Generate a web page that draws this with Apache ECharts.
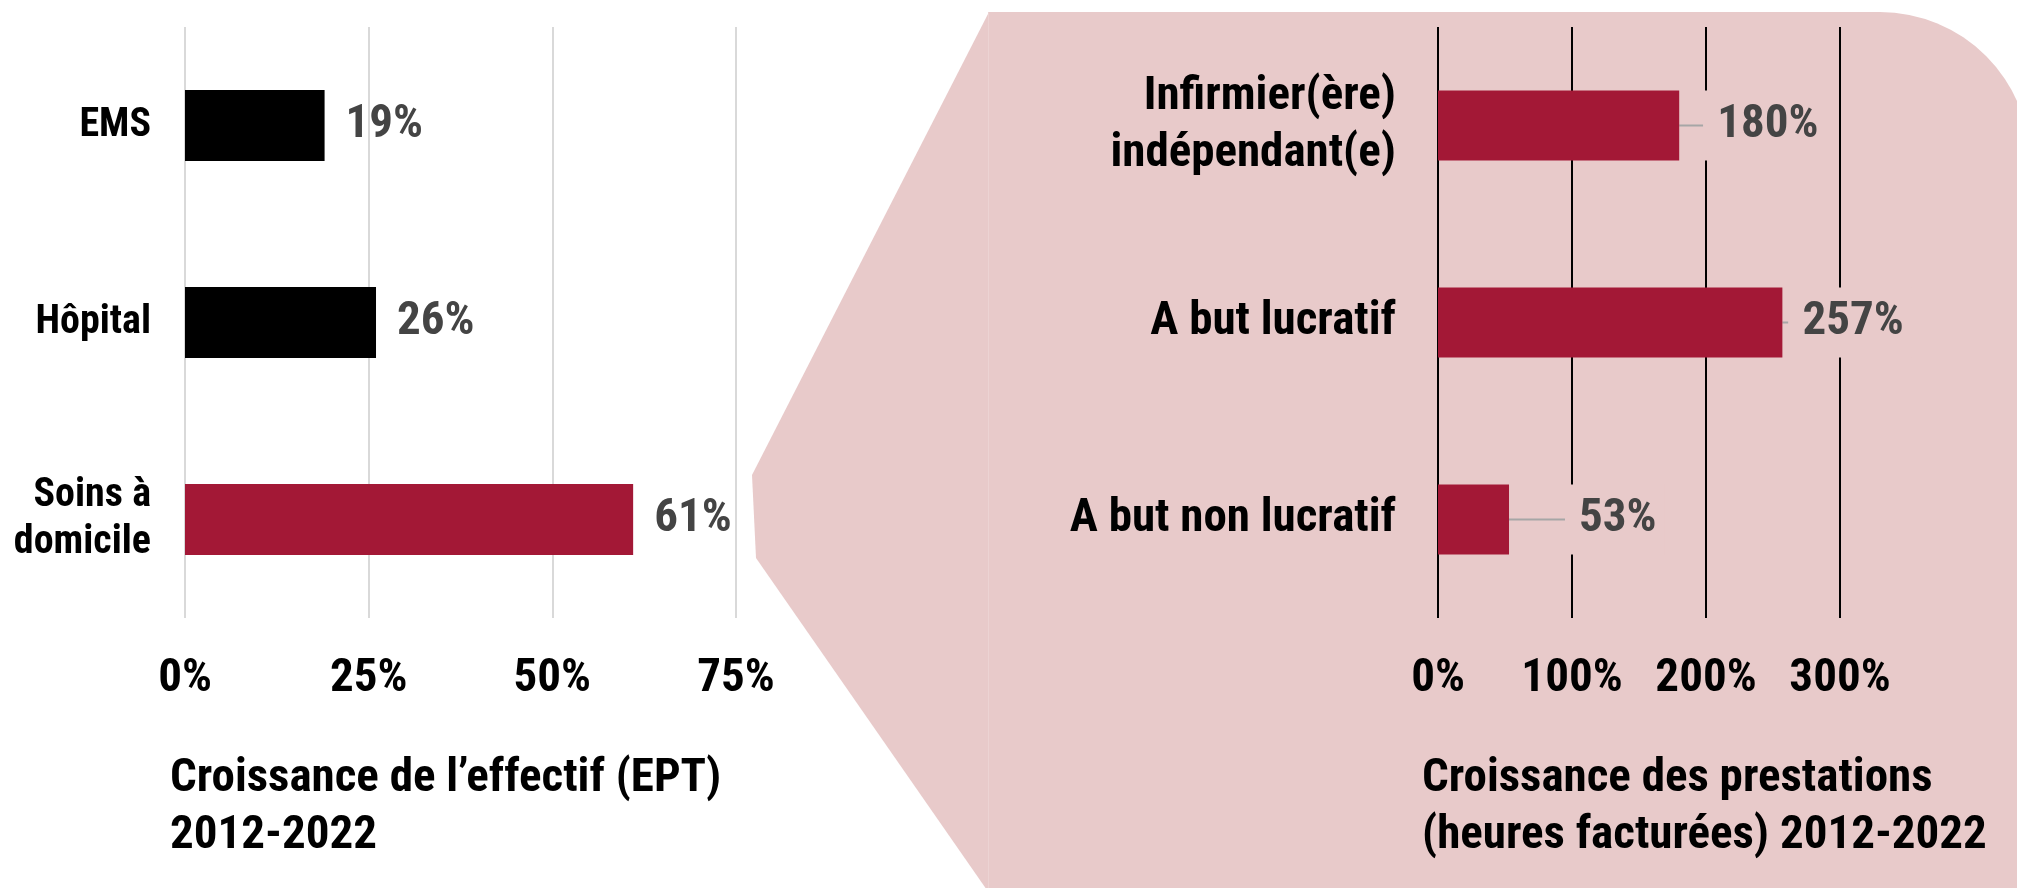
<!DOCTYPE html>
<html>
<head>
<meta charset="utf-8">
<script src="https://cdn.jsdelivr.net/npm/echarts@6/dist/echarts.min.js"></script>
<style>
  html, body { margin: 0; padding: 0; background: #ffffff; }
  #chart { width: 2017px; height: 888px; }
</style>
</head>
<body>
<div id="chart"></div>
<script>
// ---- Data ----
const leftCategories = ['EMS', 'Hôpital', 'Soins à\ndomicile'];
const leftValues = [19, 26, 61];
const leftColors = ['#000000', '#000000', '#A31836'];
const leftTicks = { min: 0, max: 75, interval: 25 };
const leftTitle = 'Croissance de l\u2019effectif (EPT)\n2012-2022';

const rightCategories = ['Infirmier(ère)\nindépendant(e)', 'A but lucratif', 'A but non lucratif'];
const rightValues = [180, 257, 53];
const rightTicks = { min: 0, max: 300, interval: 100 };
const rightTitle = 'Croissance des prestations\n(heures facturées) 2012-2022';

// label shift (leader line) for right chart labels
const rightLabelShift = [18, 0, 50];

const FONT = "'Roboto Condensed', 'DejaVu Sans Condensed', sans-serif";
const PINK = '#E8CACA';
const RED = '#A31836';

const chart = echarts.init(document.getElementById('chart'), null, { renderer: 'canvas' });

const option = {
  backgroundColor: '#ffffff',
  animation: false,
  graphic: [
    {
      type: 'polygon', z: -10, silent: true,
      shape: { points: [[989, 12], [752, 475], [756, 558], [989, 893]] },
      style: { fill: PINK }
    },
    {
      type: 'rect', z: -10, silent: true,
      shape: { x: 988, y: 12, width: 1042, height: 900, r: [0, 150, 0, 0] },
      style: { fill: PINK }
    },
    {
      type: 'line', z: -9, silent: true,
      shape: { x1: 988.5, y1: 12, x2: 988.5, y2: 888 },
      style: { stroke: '#ECD3D3', lineWidth: 1 }
    }
  ],
  title: [
    {
      text: leftTitle, left: 165, top: 746,
      textStyle: { fontFamily: FONT, fontSize: 47, fontWeight: 'bold', color: '#000', lineHeight: 57 }
    },
    {
      text: rightTitle, left: 1417, top: 746,
      textStyle: { fontFamily: FONT, fontSize: 47, fontWeight: 'bold', color: '#000', lineHeight: 57 }
    }
  ],
  grid: [
    { left: 185, top: 27, width: 551, height: 591, containLabel: false, outerBoundsMode: 'none' },
    { left: 1438, top: 27, width: 402, height: 591, containLabel: false, outerBoundsMode: 'none' }
  ],
  xAxis: [
    {
      type: 'value', gridIndex: 0,
      min: leftTicks.min, max: leftTicks.max, interval: leftTicks.interval,
      axisLine: { show: false }, axisTick: { show: false },
      splitLine: { show: true, lineStyle: { color: '#D9D9D9', width: 2 } },
      axisLabel: {
        formatter: '{value}%', margin: 61, verticalAlign: 'middle',
        fontFamily: FONT, fontSize: 47, fontWeight: 'bold', color: '#000'
      }
    },
    {
      type: 'value', gridIndex: 1,
      min: rightTicks.min, max: rightTicks.max, interval: rightTicks.interval,
      axisLine: { show: false }, axisTick: { show: false },
      splitLine: { show: true, lineStyle: { color: '#000', width: 2 } },
      axisLabel: {
        formatter: '{value}%', margin: 61, verticalAlign: 'middle',
        fontFamily: FONT, fontSize: 47, fontWeight: 'bold', color: '#000'
      }
    }
  ],
  yAxis: [
    {
      type: 'category', gridIndex: 0, inverse: true, data: leftCategories,
      axisLine: { show: false }, axisTick: { show: false },
      axisLabel: {
        margin: 34, fontFamily: FONT, fontSize: 40, fontWeight: 'bold',
        color: '#000', lineHeight: 47, align: 'right'
      }
    },
    {
      type: 'category', gridIndex: 1, inverse: true, data: rightCategories,
      axisLine: { show: false }, axisTick: { show: false },
      axisLabel: {
        margin: 42, fontFamily: FONT, fontSize: 47, fontWeight: 'bold',
        color: '#000', lineHeight: 57, align: 'right'
      }
    }
  ],
  series: [
    {
      type: 'bar', xAxisIndex: 0, yAxisIndex: 0, barWidth: 71,
      data: leftValues.map((v, i) => ({ value: v, itemStyle: { color: leftColors[i] } })),
      label: {
        show: true, position: 'right', distance: 21, formatter: '{c}%',
        fontFamily: FONT, fontSize: 47, fontWeight: 'bold', color: '#444444'
      }
    },
    {
      type: 'bar', xAxisIndex: 1, yAxisIndex: 1, barWidth: 70,
      itemStyle: { color: RED },
      data: rightValues,
      label: {
        show: true, position: 'right', distance: 6, formatter: '{c}%',
        fontFamily: FONT, fontSize: 47, fontWeight: 'bold', color: '#444444',
        backgroundColor: PINK, lineHeight: 70, padding: [0, 8, 0, 14]
      },
      labelLine: { show: true, lineStyle: { color: '#A6A6A6', width: 2 } },
      labelLayout: function (p) {
        return { dx: rightLabelShift[p.dataIndex] };
      }
    }
  ]
};

chart.setOption(option);
</script>
</body>
</html>
